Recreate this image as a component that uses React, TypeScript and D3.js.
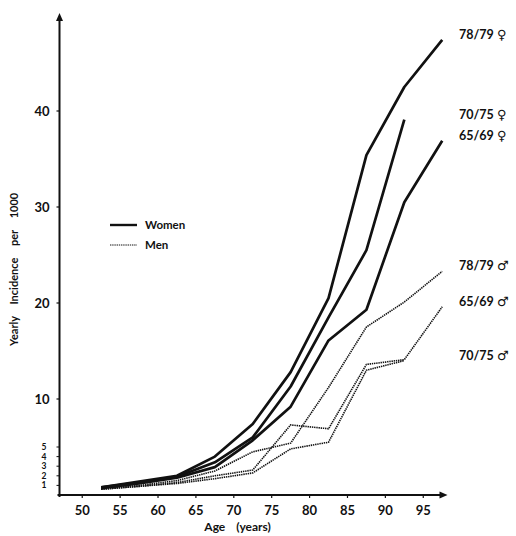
import React from "react";
import * as d3 from "d3";

// age group midpoints (years)
const ages = [52.5, 57.5, 62.5, 67.5, 72.5, 77.5, 82.5, 87.5, 92.5, 97.5];

// yearly incidence per 1000
const women7879 = [0.8, 1.4, 2.0, 4.0, 7.4, 12.8, 20.5, 35.4, 42.5, 47.4];
const women7075 = [0.8, 1.3, 1.9, 3.4, 6.0, 11.3, 18.5, 25.5, 39.1];
const women6569 = [0.7, 1.2, 1.8, 2.9, 5.7, 9.2, 16.1, 19.3, 30.5, 36.9];
const men7879 = [0.7, 1.0, 1.5, 2.5, 4.5, 5.4, 11.2, 17.5, 20.1, 23.3];
const men6569 = [0.6, 0.9, 1.3, 2.0, 2.6, 7.3, 6.9, 13.6, 14.1, 19.6];
const men7075 = [0.6, 0.9, 1.2, 1.7, 2.3, 4.8, 5.5, 13.0, 14.0];

const xTicks = [50, 55, 60, 65, 70, 75, 80, 85, 90, 95];
const yTicksBig = [10, 20, 30, 40];
const yTicksSmall = [1, 2, 3, 4, 5];

const W = 516;
const H = 536;
const font = "Lato, 'DejaVu Sans', sans-serif";

const series = [
  { name: "78/79", sex: "f", values: women7879 },
  { name: "70/75", sex: "f", values: women7075 },
  { name: "65/69", sex: "f", values: women6569 },
  { name: "78/79", sex: "m", values: men7879 },
  { name: "65/69", sex: "m", values: men6569 },
  { name: "70/75", sex: "m", values: men7075 },
];

export default function App() {
  const x = d3.scaleLinear().domain([47, 98]).range([59.5, 446]);
  const y = d3.scaleLinear().domain([0, 40]).range([495, 111]);

  const line = d3
    .line<number>()
    .x((_, i) => x(ages[i]))
    .y((d) => y(d));

  const x0 = x(47);
  const y0 = y(0);
  const yTop = y(50.2);
  const xEnd = x(98.2);

  const solid = { stroke: "#111", strokeWidth: 2.7, fill: "none", strokeLinejoin: "round" as const };
  const dotted = { stroke: "#111", strokeWidth: 1.6, fill: "none", strokeDasharray: "1.4 0.8" };

  return (
    <svg
      width={W}
      height={H}
      style={{ position: "absolute", left: 0, top: 0, background: "#fff" }}
      fontFamily={font}
      fontWeight={700}
    >
      <rect width={W} height={H} fill="#fff" />

      {/* axes */}
      <line x1={x0} x2={x0} y1={y0 + 2} y2={yTop + 6} stroke="#111" strokeWidth={2} />
      <path d={`M${x0 - 3.5},${yTop + 8} L${x0},${yTop} L${x0 + 3.5},${yTop + 8} Z`} fill="#111" />
      <line x1={x0 - 2} x2={xEnd - 6} y1={y0} y2={y0} stroke="#111" strokeWidth={2} />
      <path d={`M${xEnd - 8},${y0 - 3.5} L${xEnd},${y0} L${xEnd - 8},${y0 + 3.5} Z`} fill="#111" />

      {/* x ticks */}
      {xTicks.map((t) => (
        <g key={"x" + t}>
          <line x1={x(t)} x2={x(t)} y1={y0} y2={y0 + 3} stroke="#111" strokeWidth={1.2} />
          <text x={x(t)} y={y0 + 20} fontSize={13} textAnchor="middle" fill="#111">
            {t}
          </text>
        </g>
      ))}

      {/* y ticks */}
      {yTicksBig.map((t) => (
        <g key={"y" + t}>
          <line x1={x0 - 3} x2={x0} y1={y(t)} y2={y(t)} stroke="#111" strokeWidth={1.2} />
          <text x={x0 - 10} y={y(t) + 4.5} fontSize={13} textAnchor="end" fill="#111">
            {t}
          </text>
        </g>
      ))}
      {yTicksSmall.map((t) => (
        <g key={"ys" + t}>
          <line x1={x0 - 3} x2={x0} y1={y(t)} y2={y(t)} stroke="#111" strokeWidth={1} />
          <text x={x0 - 13} y={y(t) + 3} fontSize={8.5} textAnchor="end" fill="#111">
            {t}
          </text>
        </g>
      ))}

      {/* axis titles */}
      <text
        transform={`translate(18,${y(23.5)}) rotate(-90)`}
        fontSize={11}
        textAnchor="middle"
        wordSpacing={9}
        fill="#111"
      >
        Yearly Incidence per 1000
      </text>
      <text x={x(70.5)} y={531} fontSize={12} textAnchor="middle" wordSpacing={8} fill="#111">
        Age (years)
      </text>

      {/* series */}
      {series.map((s, i) => (
        <path key={i} d={line(s.values) || ""} {...(s.sex === "f" ? solid : dotted)} />
      ))}

      {/* end labels */}
      {series.map((s, i) => (
        <text key={"l" + i} x={459} y={y(s.values[s.values.length - 1]) - 1} fontSize={12.5} fill="#111">
          {s.name}{" "}
          <tspan fontFamily="'DejaVu Sans', sans-serif" fontSize={13}>
            {s.sex === "f" ? "\u2640" : "\u2642"}
          </tspan>
        </text>
      ))}

      {/* legend */}
      <line x1={110} x2={137} y1={225} y2={225} {...solid} strokeWidth={2.4} />
      <text x={145} y={229} fontSize={11.5} fill="#111">Women</text>
      <line x1={110} x2={137} y1={245} y2={245} {...dotted} strokeWidth={1} />
      <text x={145} y={249} fontSize={11.5} fill="#111">Men</text>
    </svg>
  );
}
